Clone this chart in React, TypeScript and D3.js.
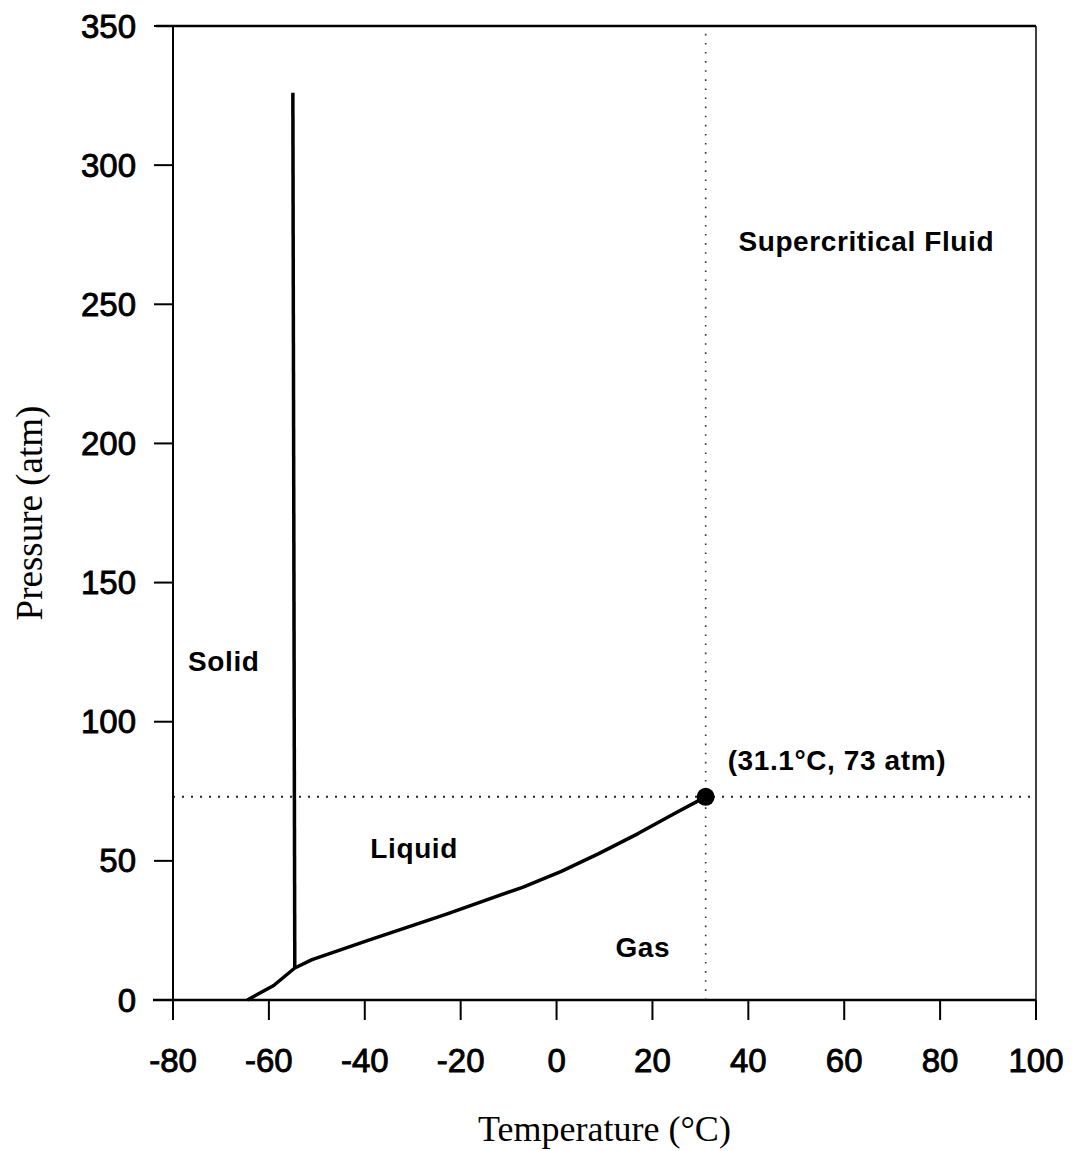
import React from "react";
import * as d3 from "d3";

// Phase diagram of carbon dioxide
const xTicks = [-80, -60, -40, -20, 0, 20, 40, 60, 80, 100];
const yTicks = [0, 50, 100, 150, 200, 250, 300, 350];

// Solid–gas (sublimation) boundary
const sublimationT = [-64.5, -59, -54.6];
const sublimationP = [0, 5.2, 11.5];

// Solid–liquid (melting) boundary
const meltingT = [-54.6, -55];
const meltingP = [11.5, 326];

// Liquid–gas (vaporization) boundary up to the critical point
const vaporT = [-54.6, -51, -39, -23.1, -7.1, 1, 8.8, 17, 24.8, 31.1];
const vaporP = [11.5, 14.5, 21.6, 30.8, 40.5, 46.2, 52.6, 59.8, 67.2, 73];

const criticalT = 31.1;
const criticalP = 73;

const regionLabels = ["Solid", "Liquid", "Gas", "Supercritical Fluid"];
const regionT = [-69.4, -29.7, 18.0, 64.6];
const regionP = [121.8, 54.3, 19, 272.7];

const criticalLabel = "(31.1°C, 73 atm)";

const W = 1075;
const H = 1151;

export default function App() {
  const x = d3.scaleLinear().domain([-80, 100]).range([173, 1036]);
  const y = d3.scaleLinear().domain([0, 350]).range([1000, 26]);

  const line = d3
    .line<[number, number]>()
    .x((d) => x(d[0]))
    .y((d) => y(d[1]));

  const zip = (a: number[], b: number[]) =>
    a.map((v, i) => [v, b[i]] as [number, number]);

  const x0 = x(-80);
  const x1 = x(100);
  const y0 = y(0);
  const y1 = y(350);

  const tickFont = "'Liberation Sans', Arial, sans-serif";
  const serif = "'Liberation Serif', 'Times New Roman', serif";

  return (
    <svg
      width={W}
      height={H}
      style={{ position: "absolute", left: 0, top: 0, background: "#fff" }}
    >
      <rect x={0} y={0} width={W} height={H} fill="#fff" />

      {/* critical point guide lines */}
      <line
        x1={x0}
        x2={x1}
        y1={y(criticalP)}
        y2={y(criticalP)}
        stroke="#222"
        strokeWidth={2}
        strokeDasharray="2 7"
      />
      <line
        x1={x(criticalT)}
        x2={x(criticalT)}
        y1={y0}
        y2={y1}
        stroke="#333"
        strokeWidth={1.6}
        strokeDasharray="1.6 7.5"
      />

      {/* frame */}
      <line x1={x0 - 17} x2={x1} y1={y1} y2={y1} stroke="#000" strokeWidth={2.5} />
      <line x1={x1} x2={x1} y1={y1} y2={y0} stroke="#000" strokeWidth={1.5} />
      <line x1={x0} x2={x0} y1={y1} y2={y0} stroke="#000" strokeWidth={2} />
      <line x1={x0 - 20} x2={x1} y1={y0} y2={y0} stroke="#000" strokeWidth={2.5} />

      {/* y ticks */}
      {yTicks.map((t) => (
        <g key={"y" + t}>
          <line x1={x0 - 19} x2={x0} y1={y(t)} y2={y(t)} stroke="#000" strokeWidth={2} />
          <text
            x={x0 - 37}
            y={y(t)}
            textAnchor="end"
            dominantBaseline="central"
            fontFamily={tickFont}
            fontSize={33}
            fill="#000"
            stroke="#000"
            strokeWidth={0.9}
          >
            {t}
          </text>
        </g>
      ))}

      {/* x ticks */}
      {xTicks.map((t) => (
        <g key={"x" + t}>
          <line x1={x(t)} x2={x(t)} y1={y0} y2={y0 + 20} stroke="#000" strokeWidth={2} />
          <text
            x={x(t)}
            y={y0 + 60}
            textAnchor="middle"
            dominantBaseline="central"
            fontFamily={tickFont}
            fontSize={33}
            fill="#000"
            stroke="#000"
            strokeWidth={0.9}
          >
            {t}
          </text>
        </g>
      ))}

      {/* phase boundaries */}
      <path
        d={line(zip(sublimationT, sublimationP)) || ""}
        fill="none"
        stroke="#000"
        strokeWidth={3.5}
        strokeLinejoin="round"
      />
      <path
        d={line(zip(meltingT, meltingP)) || ""}
        fill="none"
        stroke="#000"
        strokeWidth={3.5}
      />
      <path
        d={line(zip(vaporT, vaporP)) || ""}
        fill="none"
        stroke="#000"
        strokeWidth={3.5}
        strokeLinejoin="round"
      />

      {/* critical point */}
      <circle cx={x(criticalT)} cy={y(criticalP)} r={9} fill="#000" />

      {/* region labels */}
      {regionLabels.map((s, i) => (
        <text
          key={s}
          x={x(regionT[i])}
          y={y(regionP[i])}
          textAnchor="middle"
          dominantBaseline="central"
          fontFamily={tickFont}
          fontWeight="bold"
          fontSize={28}
          letterSpacing={0.6}
          fill="#000"
        >
          {s}
        </text>
      ))}
      <text
        x={x(criticalT) + 22}
        y={y(criticalP) - 36}
        textAnchor="start"
        dominantBaseline="central"
        fontFamily={tickFont}
        fontWeight="bold"
        fontSize={28}
        letterSpacing={0.6}
        fill="#000"
      >
        {criticalLabel}
      </text>

      {/* axis titles */}
      <text
        x={(x0 + x1) / 2}
        y={1141}
        textAnchor="middle"
        fontFamily={serif}
        fontSize={36}
        fill="#000"
      >
        Temperature (°C)
      </text>
      <text
        transform={`translate(42, ${(y0 + y1) / 2}) rotate(-90)`}
        textAnchor="middle"
        fontFamily={serif}
        fontSize={37}
        fill="#000"
      >
        Pressure (atm)
      </text>
    </svg>
  );
}
